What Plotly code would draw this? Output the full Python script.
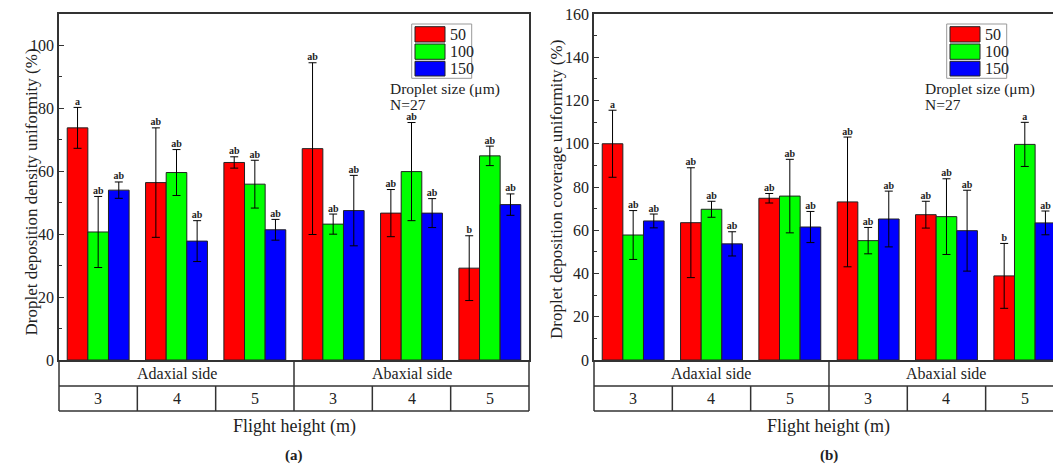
import plotly.graph_objects as go

# ---------------- data ----------------
groups = [0, 1, 2, 3, 4, 5]
sides = ["Adaxial side", "Abaxial side"]
side_centers = [1, 4]
heights = ["3", "4", "5", "3", "4", "5"]
sizes = ["50", "100", "150"]
colors = ["#FF0000", "#00FF00", "#0000FF"]

dens_50 = [73.8, 56.4, 62.8, 67.2, 46.7, 29.2]
dens_50_err = [6.5, 17.4, 1.8, 27.3, 7.5, 10.3]
dens_100 = [40.7, 59.6, 55.9, 43.2, 59.9, 64.9]
dens_100_err = [11.3, 7.3, 7.6, 3.2, 15.6, 3.1]
dens_150 = [54.0, 37.8, 41.4, 47.5, 46.7, 49.4]
dens_150_err = [2.6, 6.5, 3.3, 11.2, 4.6, 3.4]
dens_let_50 = ["a", "ab", "ab", "ab", "ab", "b"]
dens_let_100 = ["ab", "ab", "ab", "ab", "ab", "ab"]
dens_let_150 = ["ab", "ab", "ab", "ab", "ab", "ab"]

cov_50 = [100.0, 63.5, 74.8, 73.1, 67.2, 38.9]
cov_50_err = [15.5, 25.4, 2.2, 30.0, 6.2, 15.0]
cov_100 = [57.8, 69.7, 75.8, 55.2, 66.3, 99.7]
cov_100_err = [11.3, 3.7, 17.0, 6.1, 17.5, 10.2]
cov_150 = [64.3, 53.7, 61.5, 65.2, 59.8, 63.4]
cov_150_err = [3.2, 5.6, 7.2, 12.9, 18.7, 5.5]
cov_let_50 = ["a", "ab", "ab", "ab", "ab", "b"]
cov_let_100 = ["ab", "ab", "ab", "ab", "ab", "a"]
cov_let_150 = ["ab", "ab", "ab", "ab", "ab", "ab"]

# ---------------- layout constants ----------------
W, H = 1053, 466
FONT = "Liberation Serif, Times New Roman, Tinos, DejaVu Serif, serif"
TXT = "#222222"
LINE = "#333333"
BARGAP = 0.21
bar_w = (1 - BARGAP) / 3
offsets = [-bar_w, 0.0, bar_w]

rng_a = [-0.5, 5.5]
rng_b = [-0.5, 5.36]
dom_a = [59 / W, 529 / W]
dom_b = [594 / W, 1.0]
plot_top, plot_bot = 14, 360


def py(p):  # pixel y -> paper y
    return (plot_bot - p) / (plot_bot - plot_top)


fig = go.Figure()

panels = [
    ("x", "y", [dens_50, dens_100, dens_150], [dens_50_err, dens_100_err, dens_150_err],
     [dens_let_50, dens_let_100, dens_let_150]),
    ("x2", "y2", [cov_50, cov_100, cov_150], [cov_50_err, cov_100_err, cov_150_err],
     [cov_let_50, cov_let_100, cov_let_150]),
]

for xa, ya, vals, errs, lets in panels:
    for j in range(3):
        fig.add_trace(go.Bar(
            x=groups, y=vals[j], name=sizes[j], xaxis=xa, yaxis=ya,
            marker=dict(color=colors[j], line=dict(color="#222222", width=1)),
            error_y=dict(type="data", array=errs[j], color="black", thickness=1, width=4),
            showlegend=False,
        ))
    for j in range(3):
        fig.add_trace(go.Scatter(
            x=[g + offsets[j] for g in groups],
            y=[v + e for v, e in zip(vals[j], errs[j])],
            text=[f"<b>{t}</b>" for t in lets[j]],
            mode="text", textposition="top center",
            textfont=dict(family=FONT, size=10, color=TXT),
            xaxis=xa, yaxis=ya, showlegend=False, hoverinfo="skip", cliponaxis=False,
        ))

shapes = []
annos = []


def table(xref, rng, xa_data_ref, px_left):
    span = rng[1] - rng[0]

    def f(xd):
        return (xd - rng[0]) / span

    xr = xref + " domain"
    y1 = py(386)
    y2 = py(411)
    right = f(5.5)
    for yy in (y1, y2):
        shapes.append(dict(type="line", xref=xr, yref="paper", x0=0, x1=right, y0=yy, y1=yy,
                           line=dict(color=LINE, width=1.5)))
    for b in [-0.5, 0.5, 1.5, 2.5, 3.5, 4.5, 5.5]:
        top = 0 if b in (-0.5, 2.5, 5.5) else y1
        shapes.append(dict(type="line", xref=xr, yref="paper", x0=f(b), x1=f(b), y0=top, y1=y2,
                           line=dict(color=LINE, width=1.5)))
    for s, c in zip(sides, side_centers):
        annos.append(dict(text=s, xref=xa_data_ref, yref="paper", x=c, y=py(373), showarrow=False,
                          font=dict(family=FONT, size=16, color=TXT), yanchor="middle"))
    for g, h in zip(groups, heights):
        annos.append(dict(text=h, xref=xa_data_ref, yref="paper", x=g, y=py(398.5), showarrow=False,
                          font=dict(family=FONT, size=16, color=TXT), yanchor="middle"))
    annos.append(dict(text="Flight height (m)", xref=xa_data_ref, yref="paper", x=2.5, y=py(426),
                      showarrow=False, font=dict(family=FONT, size=18, color=TXT), yanchor="middle"))
    # legend
    L = px_left
    shapes.append(dict(type="rect", xref="paper", yref="paper",
                       x0=(L + 352.7) / W, x1=(L + 412.7) / W, y0=py(24), y1=py(78.3),
                       line=dict(color="#999999", width=1), fillcolor="white"))
    rows = [(26.7, 42.0), (44.0, 59.3), (61.3, 76.0)]
    for j in range(3):
        t, b = rows[j]
        shapes.append(dict(type="rect", xref="paper", yref="paper",
                           x0=(L + 356) / W, x1=(L + 386) / W, y0=py(b), y1=py(t),
                           line=dict(color="#222222", width=1), fillcolor=colors[j]))
        annos.append(dict(text=sizes[j], xref="paper", yref="paper", x=(L + 388.5) / W,
                          y=py((t + b) / 2), xanchor="left", yanchor="middle", showarrow=False,
                          font=dict(family=FONT, size=16, color=TXT)))
    annos.append(dict(text="Droplet size (\u03bcm)", xref="paper", yref="paper", x=(L + 329) / W,
                      y=py(88.5), xanchor="left", yanchor="middle", showarrow=False,
                      font=dict(family=FONT, size=15.5, color=TXT)))
    annos.append(dict(text="N=27", xref="paper", yref="paper", x=(L + 329) / W,
                      y=py(104.5), xanchor="left", yanchor="middle", showarrow=False,
                      font=dict(family=FONT, size=15.5, color=TXT)))


table("x", rng_a, "x", 59)
table("x2", rng_b, "x2", 594)

annos.append(dict(text="<b>(a)</b>", xref="x", yref="paper", x=2.5, y=py(456), showarrow=False,
                  font=dict(family=FONT, size=15, color=TXT), yanchor="middle"))
annos.append(dict(text="<b>(b)</b>", xref="x2", yref="paper", x=2.5, y=py(456), showarrow=False,
                  font=dict(family=FONT, size=15, color=TXT), yanchor="middle"))
annos.append(dict(text="Droplet deposition density uniformity (%)", xref="paper", yref="paper",
                  x=19 / W, y=py(192), textangle=-90, showarrow=False,
                  font=dict(family=FONT, size=17, color=TXT)))
annos.append(dict(text="Droplet deposition coverage uniformity (%)", xref="paper", yref="paper",
                  x=556 / W, y=py(190), textangle=-90, showarrow=False,
                  font=dict(family=FONT, size=17, color=TXT)))

xcommon = dict(showline=True, mirror=True, linecolor=LINE, linewidth=1.5, ticks="",
               showticklabels=False, showgrid=False, zeroline=False, fixedrange=True)
ycommon = dict(showline=True, linecolor=LINE, linewidth=1.5, ticks="inside", ticklen=5,
               tickwidth=1, tickcolor=LINE, showgrid=False, zeroline=False, dtick=20, tick0=0,
               minor=dict(ticks="inside", ticklen=3, dtick=10, tickcolor=LINE, tickwidth=1),
               tickfont=dict(family=FONT, size=16, color=TXT), automargin=False)

fig.update_layout(
    width=W, height=H,
    margin=dict(l=0, r=0, t=plot_top, b=H - plot_bot),
    paper_bgcolor="white", plot_bgcolor="white",
    font=dict(family=FONT, color=TXT),
    barmode="group", bargap=BARGAP, bargroupgap=0,
    xaxis=dict(domain=dom_a, range=rng_a, anchor="y", **xcommon),
    yaxis=dict(domain=[0, 1], range=[0, 110], anchor="x", mirror=True, **ycommon),
    xaxis2=dict(domain=dom_b, range=rng_b, anchor="y2", **xcommon),
    yaxis2=dict(domain=[0, 1], range=[0, 160], anchor="x2", mirror=False, **ycommon),
    shapes=shapes, annotations=annos, showlegend=False,
)

fig.write_html(
    "out.html",
    config={"displayModeBar": False},
    post_script="document.body.style.margin='0';document.body.style.overflow='hidden';",
)
